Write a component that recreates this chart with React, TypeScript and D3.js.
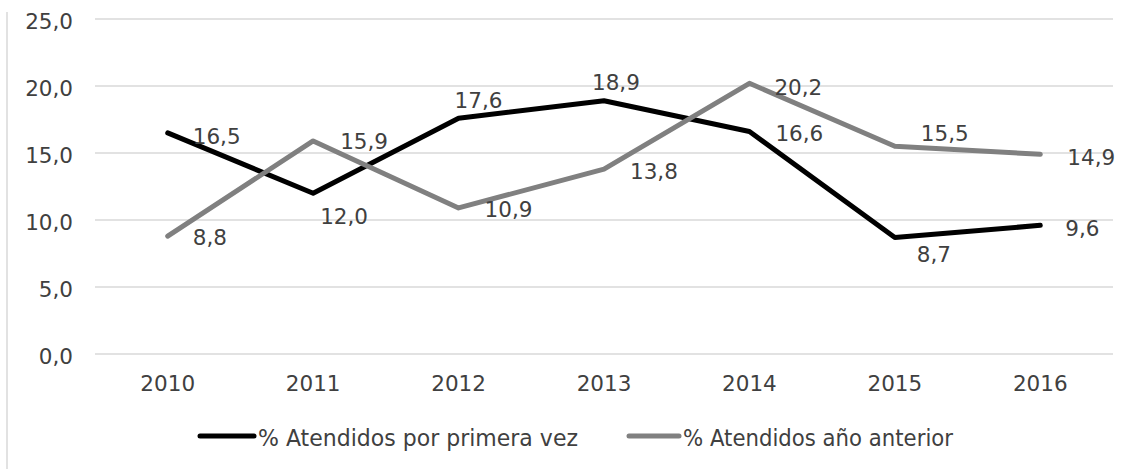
import React from "react";
import * as d3 from "d3";

const years = ["2010", "2011", "2012", "2013", "2014", "2015", "2016"];
const primeraVez = [16.5, 12.0, 17.6, 18.9, 16.6, 8.7, 9.6];
const anoAnterior = [8.8, 15.9, 10.9, 13.8, 20.2, 15.5, 14.9];
const yTicks = [0, 5, 10, 15, 20, 25];
const seriesNames = ["% Atendidos por primera vez", "% Atendidos año anterior"];

// label offsets (layout only): [dx, dy] from the point
const primeraOffsets: [number, number][] = [[25, 4], [7, 23], [-4, -18], [-12, -18], [26, 2], [22, 17], [25, 3]];
const anteriorOffsets: [number, number][] = [[25, 1], [27, 1], [26, 2], [26, 2], [25, 4], [26, -13], [27, 3]];

const W = 1144;
const H = 469;
const FONT = "'DejaVu Sans', Verdana, sans-serif";
const TEXT = "#404040";
const FS = 21.5;

export default function App() {
  const x = d3.scalePoint<string>().domain(years).range([95, 1113]).padding(0.5);
  const y = d3.scaleLinear().domain([0, 25]).range([354, 19]);
  const line = d3
    .line<number>()
    .x((_, i) => x(years[i]) as number)
    .y((d) => y(d));
  const fmt = (v: number) => v.toFixed(1).replace(".", ",");

  const series = [
    { name: seriesNames[0], values: primeraVez, color: "#000000", offs: primeraOffsets },
    { name: seriesNames[1], values: anoAnterior, color: "#808080", offs: anteriorOffsets },
  ];

  return (
    <svg
      width={W}
      height={H}
      style={{ position: "absolute", left: 0, top: 0, display: "block", background: "#fff" }}
      fontFamily={FONT}
    >
      <rect x={0} y={0} width={W} height={H} fill="#fff" />
      <line x1={7} x2={7} y1={12} y2={H} stroke="#d9d9d9" strokeWidth={1.5} />
      {yTicks.map((t) => (
        <g key={t}>
          <line x1={95} x2={1113} y1={y(t)} y2={y(t)} stroke="#d9d9d9" strokeWidth={1.5} />
          <text x={73} y={y(t) + 2} textAnchor="end" dy="0.35em" fontSize={FS} fill={TEXT}>
            {fmt(t)}
          </text>
        </g>
      ))}
      {years.map((yr) => (
        <text key={yr} x={x(yr)} y={383} textAnchor="middle" dy="0.35em" fontSize={FS} fill={TEXT}>
          {yr}
        </text>
      ))}
      {series.map((s) => (
        <path
          key={s.name}
          d={line(s.values) || ""}
          fill="none"
          stroke={s.color}
          strokeWidth={5}
          strokeLinejoin="round"
          strokeLinecap="round"
        />
      ))}
      {series.map((s) =>
        s.values.map((v, i) => (
          <text
            key={s.name + i}
            x={(x(years[i]) as number) + s.offs[i][0]}
            y={y(v) + s.offs[i][1]}
            dy="0.35em"
            fontSize={FS}
            fill={TEXT}
          >
            {fmt(v)}
          </text>
        ))
      )}
      {/* legend */}
      <line x1={200} x2={254} y1={436} y2={436} stroke="#000" strokeWidth={5} strokeLinecap="round" />
      <text x={258} y={438} dy="0.35em" fontSize={22.5} fill={TEXT} textLength={320} lengthAdjust="spacingAndGlyphs">
        {seriesNames[0]}
      </text>
      <line x1={629} x2={679} y1={436} y2={436} stroke="#808080" strokeWidth={5} strokeLinecap="round" />
      <text x={683} y={438} dy="0.35em" fontSize={22.5} fill={TEXT} textLength={270} lengthAdjust="spacingAndGlyphs">
        {seriesNames[1]}
      </text>
    </svg>
  );
}
